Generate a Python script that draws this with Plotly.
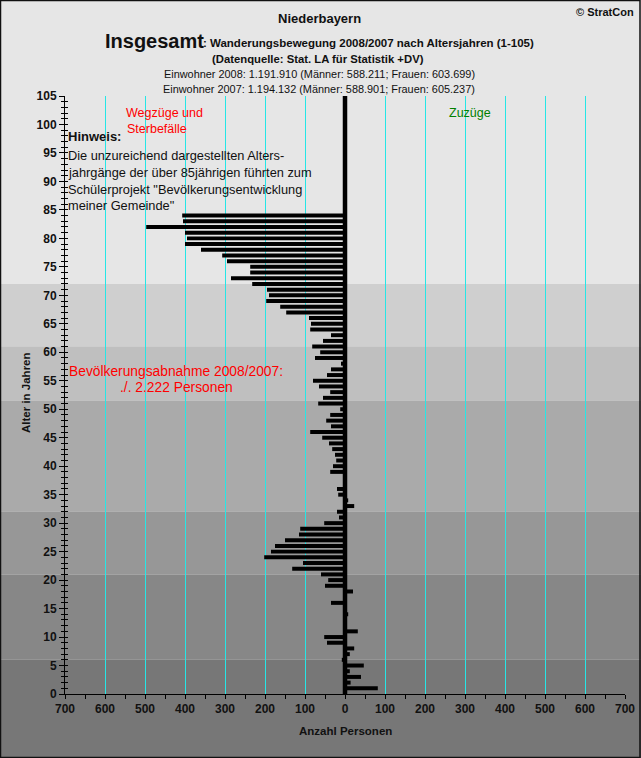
"""
Module for creating the migration chart by single years of age using Plotly
"""
import plotly.graph_objects as go


# Net migration per age (age: persons), ages without a bar are 0
net_by_age = {
    84: -407, 83: -405, 82: -497, 81: -400, 80: -395, 79: -400, 78: -360,
    77: -307, 76: -295, 75: -237, 74: -237, 73: -285, 72: -232, 71: -195,
    70: -190, 69: -197, 68: -162, 67: -147, 66: -90, 65: -85, 64: -87,
    63: -35, 62: -55, 61: -82, 60: -62, 59: -75, 58: -10, 57: -35, 56: -45,
    55: -80, 54: -65, 53: -37, 52: -55, 51: -67, 50: -12, 49: -37, 48: -47,
    47: -35, 46: -87, 45: -57, 44: -40, 43: -32, 42: -25, 41: -22, 40: -30,
    39: -37, 36: -20, 35: -17, 34: 8, 33: 23, 32: -20, 31: -15, 30: -52,
    29: -112, 28: -115, 27: -150, 26: -175, 25: -185, 24: -202, 23: -105,
    22: -132, 21: -60, 20: -42, 19: -50, 18: 20, 16: -35, 14: 8, 11: 32,
    10: -52, 9: -45, 8: 23, 7: 12, 6: -8, 5: 47, 4: 12, 3: 40, 2: 14, 1: 82
}

# Grey bands behind the whole picture (upper age, lower age, color)
bands = [
    (200, 72, '#e6e6e6'),
    (72, 61, '#cfcfcf'),
    (61, 51.5, '#bfbfbf'),
    (51.5, 32, '#aaaaaa'),
    (32, 21, '#979797'),
    (21, 6, '#878787'),
    (6, -20, '#777777')
]

# Plot area in pixels
PLOT_LEFT, PLOT_TOP = 65, 96
PLOT_WIDTH, PLOT_HEIGHT = 560, 598


def paper_x(px):
    """Pixel column to paper coordinate"""
    return (px - PLOT_LEFT) / PLOT_WIDTH


def paper_y(px):
    """Pixel row to paper coordinate"""
    return 1 + (PLOT_TOP - px) / PLOT_HEIGHT


def create_age_chart(net_by_age):
    """
    Create the horizontal bar chart

    Args:
        net_by_age: Dictionary with age as key and net migration as value

    Returns:
        plotly.graph_objects.Figure
    """
    fig = go.Figure()

    fig.add_trace(go.Bar(
        x=list(net_by_age.values()),
        y=list(net_by_age.keys()),
        orientation='h',
        width=0.7,
        marker=dict(color='#000000', line=dict(width=0)),
        showlegend=False
    ))

    # Thick zero line, on the second y axis which carries the inner ticks
    fig.add_trace(go.Scatter(
        x=[0, 0],
        y=[0, 105.4],
        mode='lines',
        line=dict(width=4.5, color='#000000'),
        yaxis='y2',
        cliponaxis=False,
        showlegend=False
    ))

    shapes = []
    for upper, lower, color in bands:
        shapes.append(dict(
            type='rect', xref='paper', yref='paper', layer='below',
            x0=paper_x(0), x1=paper_x(641),
            y0=max(lower / 105, paper_y(758)), y1=min(upper / 105, paper_y(0)),
            fillcolor=color, line=dict(width=0)
        ))
    # Frame around the picture
    shapes.append(dict(
        type='rect', xref='paper', yref='paper', layer='above',
        x0=paper_x(0.5), x1=paper_x(640), y0=paper_y(757.5), y1=paper_y(0.5),
        line=dict(width=1.5, color='#111111')
    ))

    header = [
        ('Niederbayern', 319, 19, 13, 'center', True),
        ('Insgesamt', 103, 41, 20, 'left', True),
        (': Wanderungsbewegung 2008/2007 nach Altersjahren (1-105)', 201, 43, 11.5, 'left', True),
        ('(Datenquelle: Stat. LA für Statistik +DV)', 318, 59, 11.3, 'center', True),
        ('Einwohner 2008: 1.191.910 (Männer: 588.211; Frauen: 603.699)', 319, 74, 10.9, 'center', False),
        ('Einwohner 2007: 1.194.132 (Männer: 588.901; Frauen: 605.237)', 319, 89, 10.9, 'center', False),
        ('© StratCon', 636, 12, 11, 'right', True),
        ('Anzahl Personen', 345, 731, 11.5, 'center', True)
    ]
    annotations = []
    for text, x, y, size, anchor, bold in header:
        annotations.append(dict(
            text=f'<b>{text}</b>' if bold else text,
            xref='paper', yref='paper', x=paper_x(x), y=paper_y(y),
            xanchor=anchor, yanchor='middle', showarrow=False,
            font=dict(size=size, color='#111111')
        ))

    notes = [
        ('Wegzüge und', 124, 113, 12.5, '#ff0000', 'left'),
        ('Sterbefälle', 125, 129, 12.5, '#ff0000', 'left'),
        ('Zuzüge', 447, 113, 12.5, '#008000', 'left'),
        ('<b>Hinweis:</b>', 66, 137, 13, '#111111', 'left'),
        ('Die unzureichend dargestellten Alters-', 66, 155, 12.8, '#111111', 'left'),
        ('jahrgänge der über 85jährigen führten zum', 66, 172, 12.8, '#111111', 'left'),
        ('Schülerprojekt "Bevölkerungsentwicklung', 66, 189, 12.8, '#111111', 'left'),
        ('meiner Gemeinde"', 66, 205, 12.8, '#111111', 'left'),
        ('Bevölkerungsabnahme 2008/2007:', 176, 371, 13.8, '#ff0000', 'center'),
        ('./. 2.222 Personen', 176, 387, 13.8, '#ff0000', 'center')
    ]
    for text, x, y, size, color, anchor in notes:
        annotations.append(dict(
            text=text, xref='paper', yref='paper', x=paper_x(x), y=paper_y(y),
            xanchor=anchor, yanchor='middle', showarrow=False,
            font=dict(size=size, color=color)
        ))

    annotations.append(dict(
        text='<b>Alter in Jahren</b>', xref='paper', yref='paper',
        x=paper_x(26), y=paper_y(393), textangle=-90, showarrow=False,
        xanchor='center', yanchor='middle',
        font=dict(size=11.5, color='#111111')
    ))

    tick_values = list(range(-700, 701, 100))

    fig.update_layout(
        width=641,
        height=758,
        margin=dict(l=PLOT_LEFT, r=16, t=PLOT_TOP, b=64, pad=0, autoexpand=False),
        autosize=False,
        plot_bgcolor='rgba(0, 0, 0, 0)',
        paper_bgcolor='#e6e6e6',
        font=dict(family='Liberation Sans, Arial, sans-serif', size=12),
        shapes=shapes,
        annotations=annotations,
        xaxis=dict(
            range=[-700, 700],
            tickvals=tick_values,
            ticktext=[f'<b>{abs(v)}</b>' for v in tick_values],
            ticks='outside',
            ticklen=4,
            tickcolor='#000000',
            tickwidth=1,
            minor=dict(dtick=50, ticks='outside', ticklen=4, tickcolor='#000000', tickwidth=1, showgrid=False),
            tickfont=dict(size=12, color='#111111'),
            showgrid=True,
            gridwidth=1,
            gridcolor='#26e6e6',
            zeroline=False,
            showline=True,
            linewidth=1,
            linecolor='#000000'
        ),
        yaxis=dict(
            range=[0, 105],
            tickvals=list(range(0, 106, 5)),
            ticktext=[f'<b>{v}</b>' for v in range(0, 106, 5)],
            ticks='outside',
            ticklen=5,
            tickcolor='#000000',
            tickwidth=1,
            minor=dict(dtick=1, ticks='outside', ticklen=3, tickcolor='#000000', tickwidth=1, showgrid=False),
            tickfont=dict(size=12, color='#111111'),
            showgrid=False,
            zeroline=False,
            showline=True,
            linewidth=1,
            linecolor='#000000'
        ),
        yaxis2=dict(
            range=[0, 105],
            overlaying='y',
            side='left',
            anchor='x',
            dtick=1,
            ticks='inside',
            ticklen=3,
            tickcolor='#000000',
            tickwidth=1,
            showticklabels=False,
            showgrid=False,
            zeroline=False
        )
    )

    return fig


def save_chart(fig, filename='out.html'):
    """
    Save chart to HTML file

    Args:
        fig: Plotly figure object
        filename: Output filename
    """
    fig.write_html(
        filename,
        config={'displayModeBar': False},
        post_script="document.body.style.margin = '0';"
    )

    print(f"Chart saved to: {filename}")
    return filename


fig = create_age_chart(net_by_age)
save_chart(fig)
